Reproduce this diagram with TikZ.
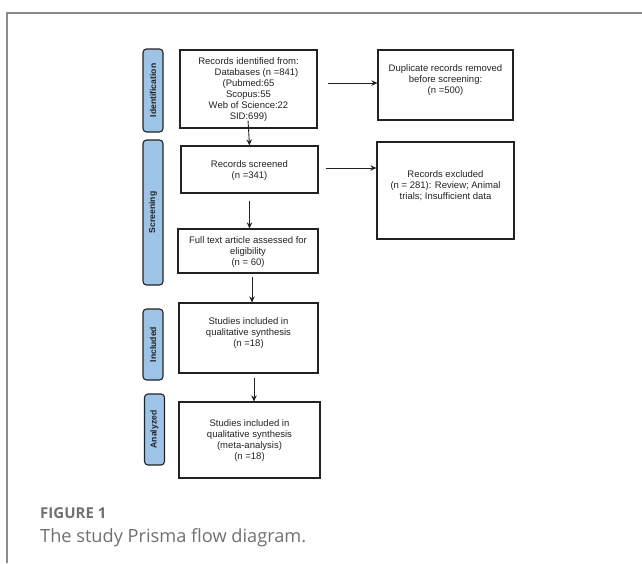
\documentclass[tikz,border=0pt]{standalone}
\usepackage{fontspec}
\setmainfont{Liberation Sans}
\newfontfamily\capfont{Open Sans}
\usetikzlibrary{arrows.meta}
\definecolor{lblue}{HTML}{9DC3E6}
\definecolor{frame}{HTML}{8A8A8A}
\definecolor{capgray}{HTML}{707070}
\definecolor{ink}{HTML}{222222}
\tikzset{
  box/.style={draw=ink, line width=1.2pt, inner sep=0pt},
  btext/.style={align=center, font=\fontsize{9.5}{11}\selectfont, text=ink, inner sep=0pt},
  stage/.style={draw=ink, line width=1.1pt, fill=lblue, rounded corners=3.5pt, rotate=90,
     font=\bfseries\fontsize{8.6}{10}\selectfont, text=ink, inner sep=0pt, minimum height=20pt},
  arr/.style={-{Stealth[length=6pt,width=5.5pt]}, line width=0.9pt, draw=ink},
}
\begin{document}
\begin{tikzpicture}[x=1pt,y=-1pt]
\useasboundingbox (0,0) rectangle (642,563);
% frame
\draw[frame, line width=2pt] (7,563) -- (7,13) -- (642,13);
% stage labels
\node[stage, minimum width=83pt] (sid) at (153,90.5) {Identification};
\node[stage, minimum width=145pt] (sscr) at (153,212.5) {Screening};
\node[stage, minimum width=71pt] (sinc) at (153,344.5) {Included};
\node[stage, minimum width=71pt] (sana) at (154.5,429.5) {Analyzed};
% boxes
\node[box, minimum width=137pt, minimum height=78pt] (ide) at (248.5,89) {};
\node[btext] (idet) at (248.5,90) {Records identified from:\\\hspace*{16pt}Databases (n =841)\\(Pubmed:65\\Scopus:55\\Web of Science:22\\SID:699)};
\node[box, minimum width=135pt, minimum height=70pt] (dup) at (445.5,85) {};
\node[btext] (dupt) at (445.5,80) {Duplicate records removed\\before screening:\\(n =500)};
\node[box, minimum width=137pt, minimum height=47pt] (scr) at (249.5,169.5) {};
\node[btext] (scrt) at (249.5,170.5) {Records screened\\(n =341)};
\node[box, minimum width=137pt, minimum height=97pt] (exc) at (445.5,190.5) {};
\node[btext] (exct) at (445.5,186) {Records excluded\\(n = 281): Review; Animal\\trials; Insufficient data};
\node[box, minimum width=140pt, minimum height=44pt] (full) at (248,251) {};
\node[btext] (fullt) at (248,252.5) {Full text article assessed for\\eligibility\\(n = 60)};
\node[box, minimum width=139pt, minimum height=70pt] (inc) at (248.5,338) {};
\node[btext] (inct) at (248.5,333.5) {Studies included in\\qualitative synthesis\\(n =18)};
\node[box, minimum width=141pt, minimum height=76pt] (meta) at (249.5,440) {};
\node[btext] (metat) at (249.5,440.5) {Studies included in\\qualitative synthesis\\(meta-analysis)\\(n =18)};
% arrows
\draw[arr] ([xshift=10pt]ide.east |- 0,83) -- (dup.west |- 0,83);
\draw[arr] ([xshift=7pt]scr.east |- 0,168) -- (exc.west |- 0,168);
\draw[arr, shorten <=-8pt] (ide.south) -- (scr.north);
\draw[arr] ([yshift=-7pt]scr.south) -- (scr.south |- full.north);
\draw[arr] ([xshift=4pt,yshift=-3pt]full.south) -- ([xshift=4pt]full.south |- inc.north);
\draw[arr] ([xshift=5.5pt,yshift=-4pt]inc.south) -- ([xshift=5.5pt]inc.south |- meta.north);
% caption
\node[anchor=base west, inner sep=0pt, font=\capfont\bfseries\fontsize{15}{18}\selectfont, text=capgray] (fig) at (40,518) {FIGURE 1};
\node[anchor=base west, inner sep=0pt, font=\capfont\fontsize{18.2}{22}\selectfont, text=capgray] (cap) at (40,542) {The study Prisma flow diagram.};
\end{tikzpicture}
\end{document}
